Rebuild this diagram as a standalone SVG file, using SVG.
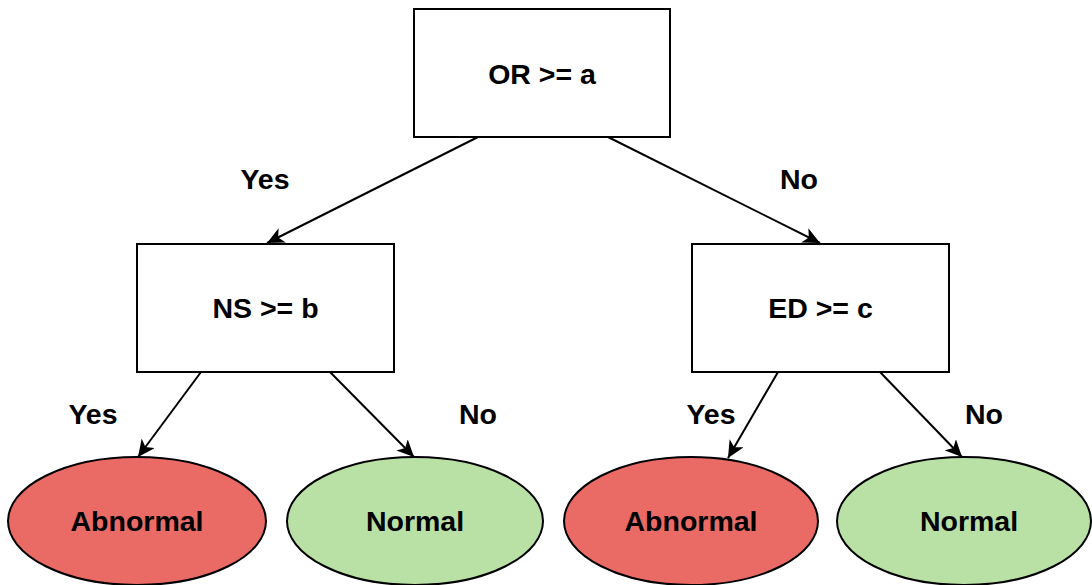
<svg xmlns="http://www.w3.org/2000/svg" width="1092" height="585" viewBox="0 0 1092 585">
  <style>
    .box { fill: #ffffff; stroke: #000000; stroke-width: 2; }
    .leaf { stroke: #000000; stroke-width: 2; }
    .bad { fill: #EA6B66; }
    .good { fill: #B9E0A5; }
    .lbl { font-family: "Liberation Sans", Arial, sans-serif; font-weight: bold; font-size: 28.5px; fill: #000000; text-anchor: middle; }
    .edge { fill: none; stroke: #000000; stroke-width: 2; marker-end: url(#arrow); }
  </style>
  <defs>
    <marker id="arrow" markerUnits="userSpaceOnUse" markerWidth="18" markerHeight="16" viewBox="0 0 18 16" refX="17" refY="8" orient="auto">
      <path d="M0,0 L17,8 L0,16 L4.5,8 Z" fill="#000000"/>
    </marker>
  </defs>

  <!-- connectors -->
  <g id="edges">
    <line class="edge" x1="478" y1="137" x2="267" y2="243"/>
    <line class="edge" x1="608" y1="137" x2="820" y2="243"/>
    <line class="edge" x1="201" y1="372" x2="138" y2="457"/>
    <line class="edge" x1="330" y1="372" x2="414" y2="457"/>
    <line class="edge" x1="778" y1="372" x2="728" y2="458"/>
    <line class="edge" x1="880" y1="372" x2="962" y2="457"/>
  </g>

  <!-- branch labels -->
  <g id="edge-labels">
    <text class="lbl" x="265" y="189">Yes</text>
    <text class="lbl" x="799" y="189">No</text>
    <text class="lbl" x="93" y="424">Yes</text>
    <text class="lbl" x="478" y="424">No</text>
    <text class="lbl" x="711" y="424">Yes</text>
    <text class="lbl" x="984" y="424">No</text>
  </g>

  <g id="node-or">
    <rect class="box" x="414" y="9" width="256" height="128"/>
    <text class="lbl" x="542" y="84">OR &gt;= a</text>
  </g>

  <g id="node-ns">
    <rect class="box" x="137" y="244" width="257" height="128"/>
    <text class="lbl" x="265.5" y="318">NS &gt;= b</text>
  </g>

  <g id="node-ed">
    <rect class="box" x="692" y="244" width="257" height="128"/>
    <text class="lbl" x="820.5" y="318">ED &gt;= c</text>
  </g>

  <g id="leaf-ns-yes">
    <ellipse class="leaf bad" cx="137" cy="521" rx="129" ry="64"/>
    <text class="lbl" x="137" y="531">Abnormal</text>
  </g>

  <g id="leaf-ns-no">
    <ellipse class="leaf good" cx="415" cy="521" rx="128" ry="64"/>
    <text class="lbl" x="415" y="531">Normal</text>
  </g>

  <g id="leaf-ed-yes">
    <ellipse class="leaf bad" cx="691" cy="521" rx="127" ry="64"/>
    <text class="lbl" x="691" y="531">Abnormal</text>
  </g>

  <g id="leaf-ed-no">
    <ellipse class="leaf good" cx="964" cy="521" rx="127" ry="64"/>
    <text class="lbl" x="969" y="531">Normal</text>
  </g>
</svg>
